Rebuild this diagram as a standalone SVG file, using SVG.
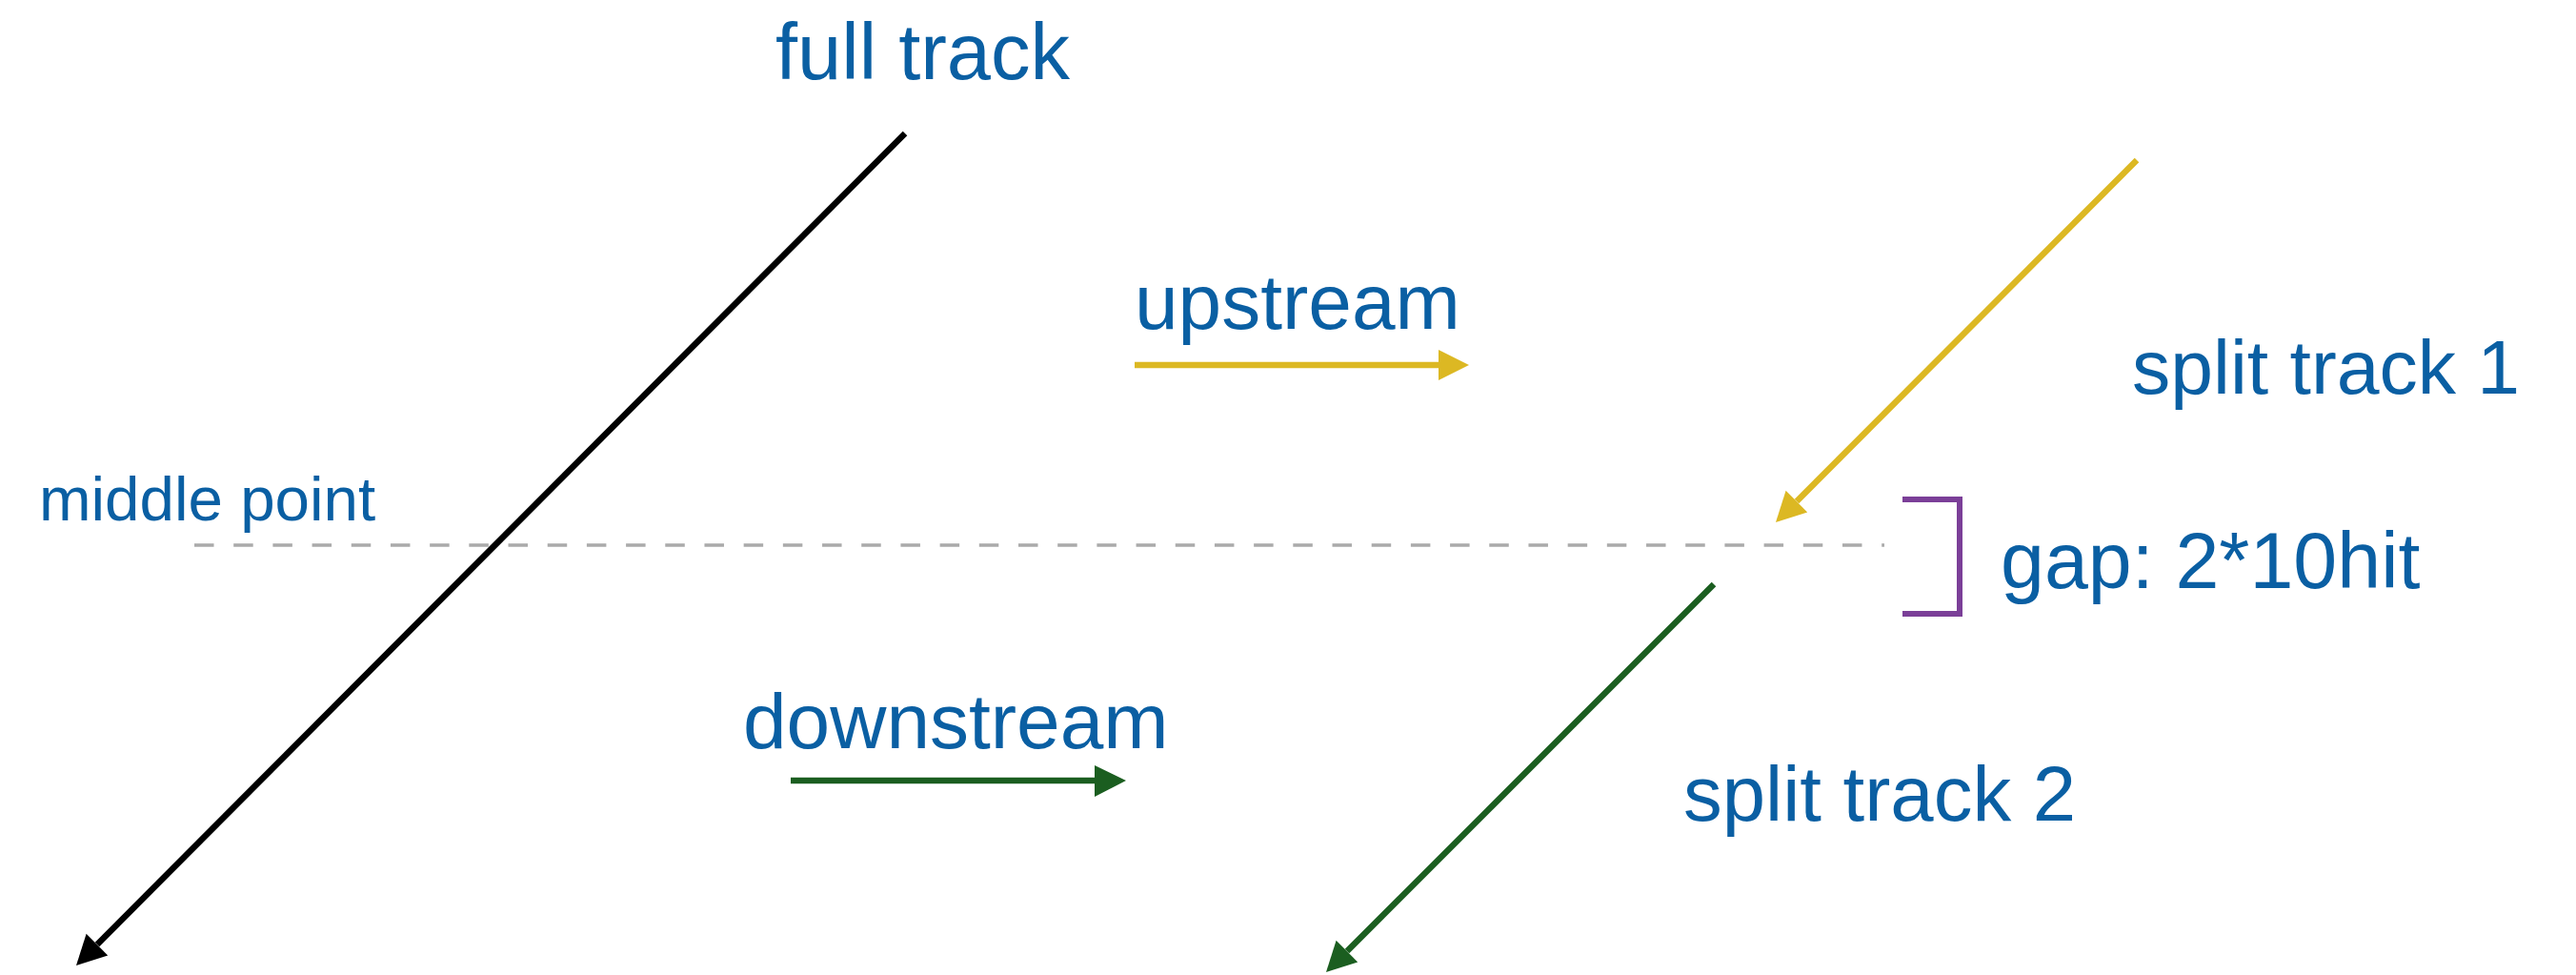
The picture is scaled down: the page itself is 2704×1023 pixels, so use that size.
<svg xmlns="http://www.w3.org/2000/svg" width="2704" height="1023" viewBox="0 0 2704 1023">
<style>
  .lbl { font-family: "Liberation Sans", Arial, Helvetica, sans-serif; fill: #0a5fa3; }
  .trk { stroke-width: 6.5; fill: none; stroke-linecap: butt; }
</style>
<rect x="0" y="0" width="2704" height="1023" fill="#ffffff"/>
<g id="labels">
  <text id="full-track-label" class="lbl" x="814" y="83" font-size="83">full track</text>
  <text id="upstream-label" class="lbl" x="1191" y="345" font-size="82">upstream</text>
  <text id="split1-label" class="lbl" x="2238" y="413" font-size="80.5">split track 1</text>
  <text id="middle-label" class="lbl" x="41" y="546" font-size="65.5">middle point</text>
  <text id="gap-label" class="lbl" x="2100" y="617" font-size="82.5">gap: 2*10hit</text>
  <text id="downstream-label" class="lbl" x="780" y="785" font-size="82">downstream</text>
  <text id="split2-label" class="lbl" x="1767" y="861" font-size="81.5">split track 2</text>
</g>
<g id="middle-line">
  <line x1="204" y1="572" x2="1978" y2="572" stroke="#aaaaaa" stroke-width="3.5" stroke-dasharray="20.5 20.69"/>
</g>
<g id="gap-bracket">
  <path d="M1997,524 H2057 V644 H1997" fill="none" stroke="#7b3f98" stroke-width="6"/>
</g>
<g id="connectors">
  <g id="full-track">
    <line class="trk" x1="950" y1="140" x2="102" y2="991" stroke="#000000"/>
    <polygon points="80,1013 113.2,1002.4 90.6,979.8" fill="#000000"/>
  </g>
  <g id="split-track-1">
    <line class="trk" x1="2243" y1="168" x2="1886" y2="526" stroke="#dcb823"/>
    <polygon points="1864,548 1897.2,537.4 1874.6,514.8" fill="#dcb823"/>
  </g>
  <g id="split-track-2">
    <line class="trk" x1="1799" y1="613" x2="1414" y2="998" stroke="#1b5e20"/>
    <polygon points="1392,1020 1425.2,1009.4 1402.6,986.8" fill="#1b5e20"/>
  </g>
  <g id="upstream-arrow">
    <line class="trk" x1="1191" y1="383" x2="1512" y2="383" stroke="#dcb823"/>
    <polygon points="1542,383 1510,367 1510,399" fill="#dcb823"/>
  </g>
  <g id="downstream-arrow">
    <line class="trk" x1="830" y1="819" x2="1151" y2="819" stroke="#1b5e20"/>
    <polygon points="1182,819 1149,803 1149,836" fill="#1b5e20"/>
  </g>
</g>
</svg>
